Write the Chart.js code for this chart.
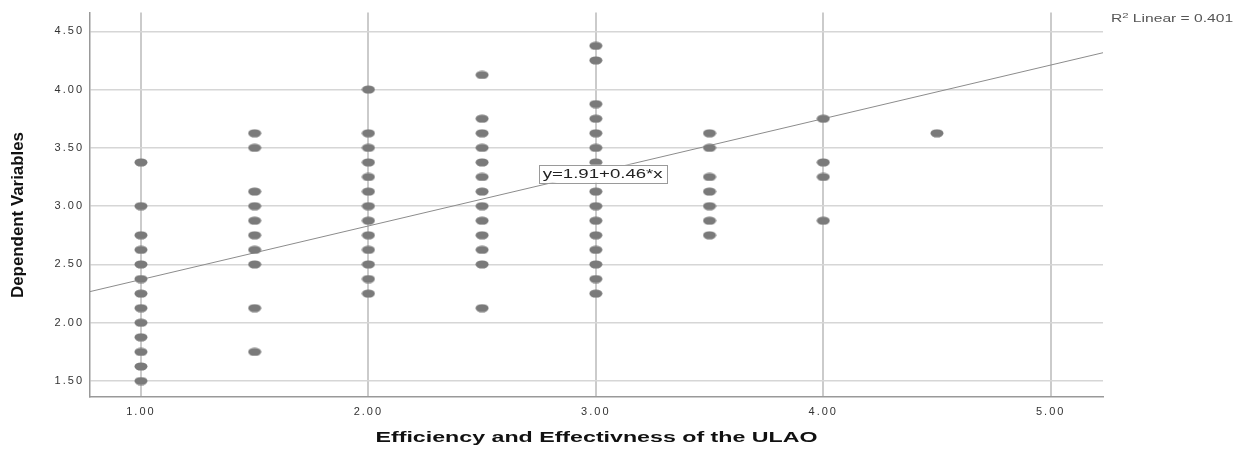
<!DOCTYPE html>
<html lang="en">
<head>
    <meta charset="UTF-8">
    <title>Dependent Variables vs ULAO</title>
    <script src="https://cdn.jsdelivr.net/npm/chart.js"></script>
    <style>
        html, body { margin: 0; padding: 0; background: #fff; }
        #wrap { width: 1238px; height: 449px; }
    </style>
</head>
<body>
    <div id="wrap"><canvas id="myChart"></canvas></div>
<script>
    // x levels and the y values observed at each level
    const xLevels = [1.0, 1.5, 2.0, 2.5, 3.0, 3.5, 4.0, 4.5];
    const yAt100 = [3.375, 3.0, 2.75, 2.625, 2.5, 2.375, 2.25, 2.125, 2.0, 1.875, 1.75, 1.625, 1.5];
    const yAt150 = [3.625, 3.5, 3.125, 3.0, 2.875, 2.75, 2.625, 2.5, 2.125, 1.75];
    const yAt200 = [4.0, 3.625, 3.5, 3.375, 3.25, 3.125, 3.0, 2.875, 2.75, 2.625, 2.5, 2.375, 2.25];
    const yAt250 = [4.125, 3.75, 3.625, 3.5, 3.375, 3.25, 3.125, 3.0, 2.875, 2.75, 2.625, 2.5, 2.125];
    const yAt300 = [4.375, 4.25, 3.875, 3.75, 3.625, 3.5, 3.375, 3.25, 3.125, 3.0, 2.875, 2.75, 2.625, 2.5, 2.375, 2.25];
    const yAt350 = [3.625, 3.5, 3.25, 3.125, 3.0, 2.875, 2.75];
    const yAt400 = [3.75, 3.375, 3.25, 2.875];
    const yAt450 = [3.625];
    const yColumns = [yAt100, yAt150, yAt200, yAt250, yAt300, yAt350, yAt400, yAt450];

    const xTicks = [1, 2, 3, 4, 5];
    const yTicks = [1.5, 2.0, 2.5, 3.0, 3.5, 4.0, 4.5];

    // fit line  y = intercept + slope * x
    const intercept = 1.91;
    const slope = 0.46;
    const rSquared = 0.401;
    const xRange = [0.776, 5.23];
    const yRange = [1.363, 4.66];

    const xTitle = 'Efficiency and Effectivness of the ULAO';
    const yTitle = 'Dependent Variables';

    const FONT = "'Liberation Sans', Arial, sans-serif";

    function scatterData() {
        const pts = [];
        xLevels.forEach((x, i) => {
            yColumns[i].forEach(y => pts.push({ x: x, y: y }));
        });
        return pts;
    }

    function ellipseMarker() {
        const c = document.createElement('canvas');
        c.width = 14;
        c.height = 9;
        const g = c.getContext('2d');
        g.fillStyle = '#7a7a7a';
        g.beginPath();
        g.ellipse(7, 4.5, 6.5, 4.1, 0, 0, Math.PI * 2);
        g.fill();
        return c;
    }

    // the original picture is stretched sideways, so text gets a wider spacing / x scale
    const labelsPlugin = {
        id: 'spssLabels',
        beforeDraw(chart) {
            chart.ctx.letterSpacing = '2px';
        },
        afterDatasetsDraw(chart) {
            const ctx = chart.ctx;
            const xs = chart.scales.x, ys = chart.scales.y;

            // equation box on the fit line
            const lx = 3.03;
            const px = xs.getPixelForValue(lx);
            const py = ys.getPixelForValue(intercept + slope * lx) + 3;
            const text = 'y=' + intercept.toFixed(2) + '+' + slope.toFixed(2) + '*x';
            ctx.save();
            ctx.letterSpacing = '0px';
            ctx.font = '12px ' + FONT;
            const sx = 1.55;
            const w = ctx.measureText(text).width * sx + 8;
            const h = 18;
            ctx.fillStyle = '#fff';
            ctx.fillRect(px - w / 2, py - h / 2, w, h);
            ctx.strokeStyle = '#9a9a9a';
            ctx.lineWidth = 1;
            ctx.strokeRect(Math.round(px - w / 2) + 0.5, Math.round(py - h / 2) + 0.5, Math.round(w), h);
            ctx.fillStyle = '#222';
            ctx.textAlign = 'center';
            ctx.textBaseline = 'middle';
            ctx.translate(px, py + 1);
            ctx.scale(sx, 1);
            ctx.fillText(text, 0, 0);
            ctx.restore();
        },
        afterDraw(chart) {
            const ctx = chart.ctx;
            const area = chart.chartArea;
            ctx.save();
            ctx.letterSpacing = '0px';

            // R squared label, top right outside the plot
            ctx.fillStyle = '#555';
            ctx.textBaseline = 'alphabetic';
            ctx.textAlign = 'left';
            ctx.save();
            ctx.translate(area.right + 8, 22);
            ctx.scale(1.42, 1);
            let x0 = 0;
            ctx.font = '11px ' + FONT;
            ctx.fillText('R', x0, 0);
            x0 += ctx.measureText('R').width;
            ctx.font = '8px ' + FONT;
            ctx.fillText('2', x0, -4);
            x0 += ctx.measureText('2').width + 3;
            ctx.font = '11px ' + FONT;
            ctx.fillText('Linear = ' + rSquared.toFixed(3), x0, 0);
            ctx.restore();

            // x axis title
            ctx.fillStyle = '#111';
            ctx.textAlign = 'center';
            ctx.textBaseline = 'middle';
            ctx.font = 'bold 15px ' + FONT;
            let tw = ctx.measureText(xTitle).width;
            ctx.save();
            ctx.translate((area.left + area.right) / 2, 438);
            ctx.scale(442 / tw, 1);
            ctx.fillText(xTitle, 0, 0);
            ctx.restore();

            // y axis title
            ctx.font = 'bold 17px ' + FONT;
            tw = ctx.measureText(yTitle).width;
            ctx.save();
            ctx.translate(18, 215);
            ctx.rotate(-Math.PI / 2);
            ctx.scale(166 / tw, 1);
            ctx.fillText(yTitle, 0, 0);
            ctx.restore();

            ctx.restore();
        }
    };

    function createChart() {
        const ctx = document.getElementById('myChart').getContext('2d');
        new Chart(ctx, {
            type: 'scatter',
            data: {
                datasets: [{
                    label: 'Fit',
                    type: 'line',
                    data: xRange.map(x => ({ x: x, y: intercept + slope * x })),
                    borderColor: '#8c8c8c',
                    borderWidth: 1,
                    pointRadius: 0,
                    fill: false,
                    order: 2
                }, {
                    label: 'Points',
                    data: scatterData(),
                    pointStyle: ellipseMarker(),
                    order: 1
                }]
            },
            options: {
                responsive: true,
                maintainAspectRatio: false,
                animation: false,
                layout: { padding: { top: 8, right: 135, left: 0, bottom: 0 } },
                plugins: {
                    legend: { display: false },
                    tooltip: { enabled: false }
                },
                scales: {
                    x: {
                        type: 'linear',
                        min: xRange[0],
                        max: xRange[1],
                        afterBuildTicks: axis => { axis.ticks = xTicks.map(v => ({ value: v })); },
                        afterFit: axis => { axis.height = 52; },
                        grid: { color: '#cbcbcb', lineWidth: 2, drawTicks: false },
                        border: { color: '#999', width: 1.5 },
                        ticks: {
                            padding: 8,
                            color: '#333',
                            font: { family: FONT, size: 11 },
                            callback: v => v.toFixed(2)
                        }
                    },
                    y: {
                        min: yRange[0],
                        max: yRange[1],
                        afterBuildTicks: axis => { axis.ticks = yTicks.map(v => ({ value: v })); },
                        afterFit: axis => { axis.width = 90; },
                        grid: { color: '#d6d6d6', lineWidth: 1.5, drawTicks: false },
                        border: { color: '#999', width: 1.5 },
                        ticks: {
                            padding: 6,
                            color: '#333',
                            font: { family: FONT, size: 11 },
                            callback: v => v.toFixed(2)
                        }
                    }
                }
            },
            plugins: [labelsPlugin]
        });
    }

    createChart();
</script>
</body>
</html>
